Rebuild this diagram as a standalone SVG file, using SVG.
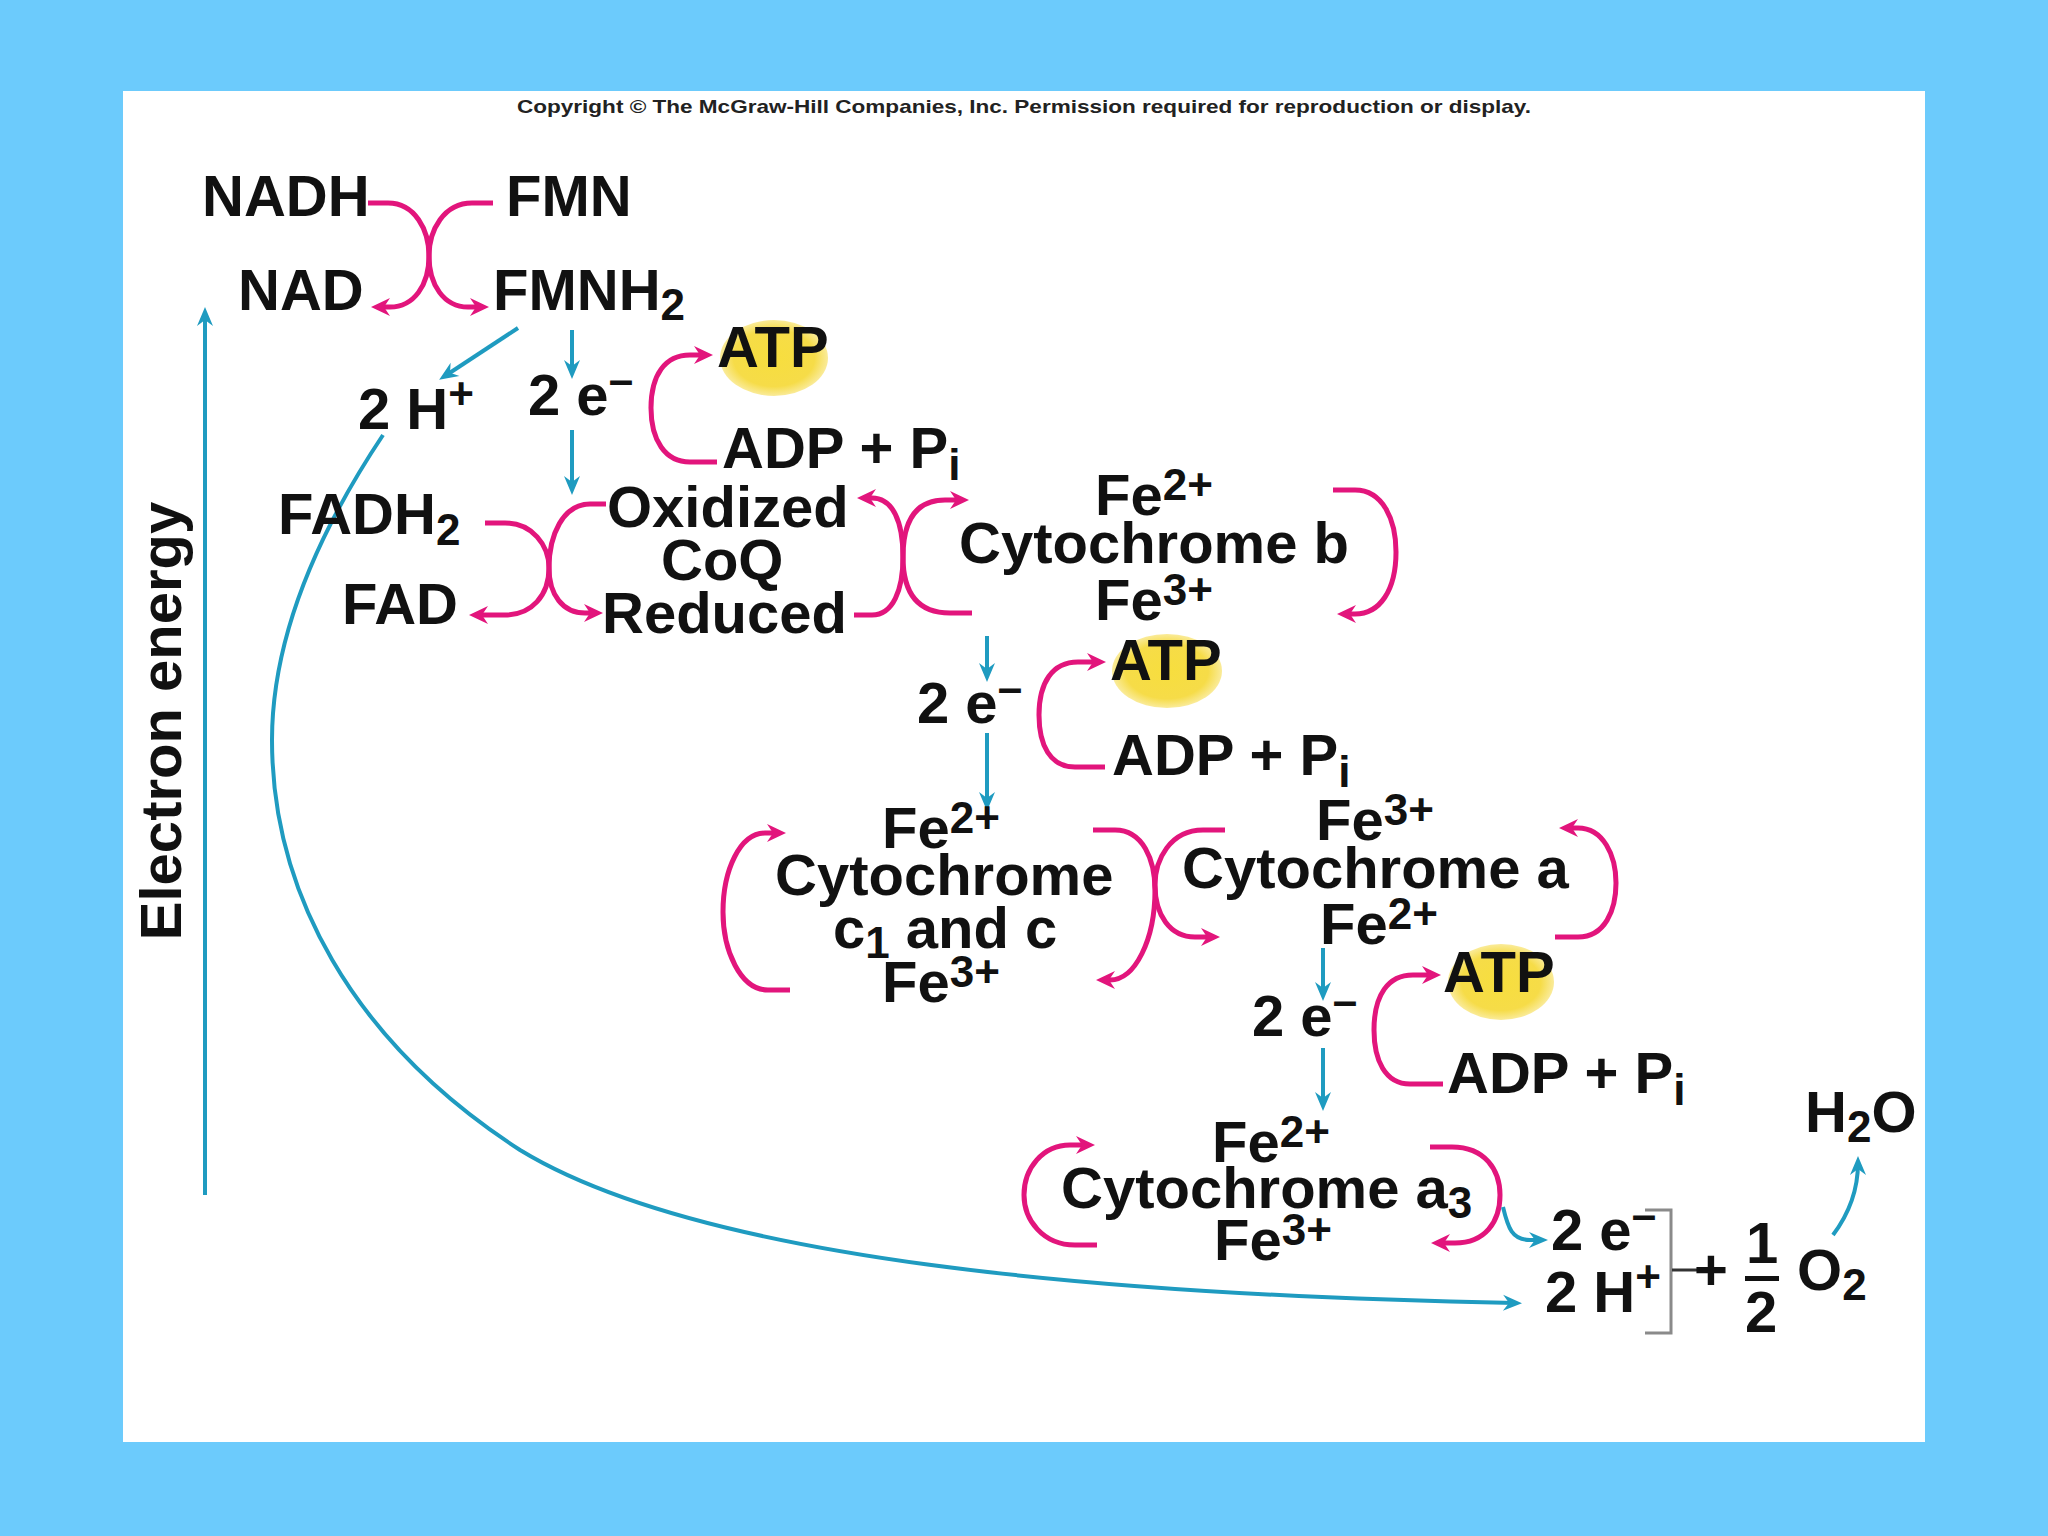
<svg xmlns="http://www.w3.org/2000/svg" width="2048" height="1536" viewBox="0 0 2048 1536">
<style>
.t{font-family:"Liberation Sans",Arial,sans-serif;font-weight:bold;font-size:58px;fill:#111}
.s{font-size:44px}
.m{fill:none;stroke:#E2157C;stroke-width:5}
.b{fill:none;stroke:#1F9BC0;stroke-width:4}
.ma{marker-end:url(#am)}
.ba{marker-end:url(#ab)}
</style>
<defs>
<marker id="am" markerUnits="userSpaceOnUse" viewBox="-14 -10 22 20" refX="0" refY="0" markerWidth="22" markerHeight="20" orient="auto">
<path d="M7,0 L-12,-9 L-6,0 L-12,9 Z" fill="#E2157C"/>
</marker>
<marker id="ab" markerUnits="userSpaceOnUse" viewBox="-14 -10 22 20" refX="0" refY="0" markerWidth="22" markerHeight="20" orient="auto">
<path d="M7,0 L-12,-8 L-6,0 L-12,8 Z" fill="#1F9BC0"/>
</marker>
<radialGradient id="atp" cx="0.5" cy="0.5" r="0.5">
<stop offset="0" stop-color="#F7DE3E"/>
<stop offset="0.75" stop-color="#F6DC48"/>
<stop offset="1" stop-color="#FAEB9A"/>
</radialGradient>
</defs>
<rect x="0" y="0" width="2048" height="1536" fill="#6CCBFC"/>
<rect x="123" y="91" width="1802" height="1351" fill="#FFFFFF"/>
<text x="1024" y="113" text-anchor="middle" textLength="1014" lengthAdjust="spacingAndGlyphs" style="font-family:'Liberation Sans',Arial,sans-serif;font-weight:bold;font-size:19px;fill:#222">Copyright © The McGraw-Hill Companies, Inc. Permission required for reproduction or display.</text>

<g id="connectors">
<path class="m ma" d="M368,203 H388 C415,203 429,230 429,256 C429,285 414,307 390,307 H378"/>
<path class="m ma" d="M493,203 H472 C444,203 429,230 429,256 C429,285 444,307 468,307 H482"/>
<path class="m ma" d="M717,462 H690 C665,462 651,440 651,408 C651,375 665,355 690,355 H706"/>
<path class="m ma" d="M485,523 H505 C532,523 549,545 549,568 C549,595 532,615 505,615 H476"/>
<path class="m ma" d="M606,504 H590 C563,504 549,535 549,568 C549,595 563,613 585,613 H596"/>
<path class="m ma" d="M854,615 H872 C893,615 903,590 903,557 C903,522 893,498 872,498 H864"/>
<path class="m ma" d="M972,613 H950 C915,613 903,590 903,557 C903,522 915,500 945,500 H962"/>
<path class="m ma" d="M1333,490 H1355 C1383,490 1396,520 1396,552 C1396,590 1380,614 1355,614 H1344"/>
<path class="m ma" d="M1105,767 H1075 C1050,767 1039,745 1039,715 C1039,683 1052,662 1078,662 H1099"/>
<path class="m ma" d="M790,990 H768 C740,990 723,950 723,912 C723,870 740,833 765,833 H779"/>
<path class="m ma" d="M1093,830 H1115 C1143,830 1155,860 1155,890 C1155,940 1135,980 1110,980 H1103"/>
<path class="m ma" d="M1225,830 H1203 C1170,830 1155,860 1155,885 C1155,915 1170,937 1195,937 H1213"/>
<path class="m ma" d="M1555,937 H1578 C1605,937 1616,910 1616,883 C1616,855 1603,828 1578,828 H1566"/>
<path class="m ma" d="M1443,1084 H1410 C1385,1084 1374,1060 1374,1030 C1374,995 1388,975 1413,975 H1434"/>
<path class="m ma" d="M1097,1245 H1075 C1043,1245 1024,1220 1024,1195 C1024,1168 1043,1145 1070,1145 H1088"/>
<path class="m ma" d="M1430,1147 H1452 C1485,1147 1500,1170 1500,1195 C1500,1222 1485,1243 1455,1243 H1438"/>

<path class="b ba" d="M518,328 L445,376"/>
<path class="b ba" d="M572,330 V372"/>
<path class="b ba" d="M572,430 V488"/>
<path class="b ba" d="M987,636 V675"/>
<path class="b ba" d="M987,733 V804"/>
<path class="b ba" d="M1323,948 V994"/>
<path class="b ba" d="M1323,1048 V1104"/>
<path class="b ba" d="M1503,1207 C1508,1228 1512,1240 1530,1240 H1541"/>
<path class="b ba" d="M383,435 C335,507 272,620 272,740 C272,890 350,1040 520,1150 C700,1260 1100,1295 1515,1303"/>
<path class="b ba" d="M1833,1235 C1848,1215 1858,1190 1858,1163"/>
<path class="b ba" d="M205,1195 V314"/>
<path d="M1645,1210 H1671 V1333 H1645" fill="none" stroke="#8A8A8A" stroke-width="3"/>
<path d="M1672,1270 H1697" fill="none" stroke="#333" stroke-width="3"/>
</g>

<g id="nadh"><text class="t" x="202" y="216">NADH</text></g>
<g id="fmn"><text class="t" x="506" y="216">FMN</text></g>
<g id="nad"><text class="t" x="238" y="310">NAD</text></g>
<g id="fmnh2"><text class="t" x="493" y="310">FMNH<tspan class="s" dy="10">2</tspan></text></g>
<g id="atp1"><ellipse cx="774" cy="358" rx="54" ry="38" fill="url(#atp)"/><text class="t" x="717" y="367">ATP</text></g>
<g id="h1"><text class="t" x="358" y="429">2 H<tspan class="s" dy="-20">+</tspan></text></g>
<g id="e1"><text class="t" x="528" y="415">2 e<tspan class="s" dy="-20">–</tspan></text></g>
<g id="adp1"><text class="t" x="722" y="468">ADP + P<tspan class="s" dy="12">i</tspan></text></g>
<g id="fadh2"><text class="t" x="278" y="534">FADH<tspan class="s" dy="11">2</tspan></text></g>
<g id="fad"><text class="t" x="342" y="624">FAD</text></g>
<g id="coq"><text class="t" x="607" y="527">Oxidized</text><text class="t" x="661" y="580">CoQ</text><text class="t" x="602" y="633">Reduced</text></g>
<g id="cytb"><text class="t" x="1095" y="515">Fe<tspan class="s" dy="-15">2+</tspan></text><text class="t" x="959" y="563">Cytochrome b</text><text class="t" x="1095" y="620">Fe<tspan class="s" dy="-15">3+</tspan></text></g>
<g id="atp2"><ellipse cx="1167" cy="671" rx="55" ry="37" fill="url(#atp)"/><text class="t" x="1110" y="680">ATP</text></g>
<g id="e2"><text class="t" x="917" y="723">2 e<tspan class="s" dy="-20">–</tspan></text></g>
<g id="adp2"><text class="t" x="1112" y="775">ADP + P<tspan class="s" dy="12">i</tspan></text></g>
<g id="cytc"><text class="t" x="882" y="848">Fe<tspan class="s" dy="-15">2+</tspan></text><text class="t" x="775" y="895">Cytochrome</text><text class="t" x="833" y="948">c<tspan class="s" dy="10">1</tspan><tspan dy="-10"> and c</tspan></text><text class="t" x="882" y="1002">Fe<tspan class="s" dy="-15">3+</tspan></text></g>
<g id="cyta"><text class="t" x="1316" y="840">Fe<tspan class="s" dy="-15">3+</tspan></text><text class="t" x="1182" y="888">Cytochrome a</text><text class="t" x="1320" y="944">Fe<tspan class="s" dy="-15">2+</tspan></text></g>
<g id="atp3"><ellipse cx="1501" cy="982" rx="53" ry="38" fill="url(#atp)"/><text class="t" x="1443" y="992">ATP</text></g>
<g id="e3"><text class="t" x="1252" y="1036">2 e<tspan class="s" dy="-20">–</tspan></text></g>
<g id="adp3"><text class="t" x="1447" y="1093">ADP + P<tspan class="s" dy="12">i</tspan></text></g>
<g id="h2o"><text class="t" x="1805" y="1132">H<tspan class="s" dy="10">2</tspan><tspan dy="-10">O</tspan></text></g>
<g id="cyta3"><text class="t" x="1212" y="1162">Fe<tspan class="s" dy="-15">2+</tspan></text><text class="t" x="1061" y="1208">Cytochrome a<tspan class="s" dy="10">3</tspan></text><text class="t" x="1214" y="1260">Fe<tspan class="s" dy="-15">3+</tspan></text></g>
<g id="products"><text class="t" x="1551" y="1250">2 e<tspan class="s" dy="-20">–</tspan></text><text class="t" x="1545" y="1312">2 H<tspan class="s" dy="-20">+</tspan></text></g>
<g id="oxygen"><text class="t" x="1694" y="1290">+</text><text class="t" x="1746" y="1263">1</text><rect x="1745" y="1276" width="34" height="5" fill="#111"/><text class="t" x="1745" y="1332">2</text><text class="t" x="1797" y="1290">O<tspan class="s" dy="10">2</tspan></text></g>
<g id="axis"><text class="t" transform="translate(181,721) rotate(-90)" text-anchor="middle">Electron energy</text></g>
</svg>
